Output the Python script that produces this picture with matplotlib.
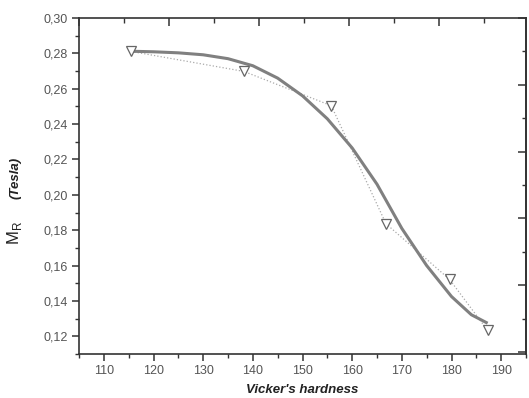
import numpy as np
import matplotlib.pyplot as plt
from matplotlib.ticker import MultipleLocator, FuncFormatter

# measured points (open triangles)
hv = [115.5, 138.2, 155.8, 166.8, 179.6, 187.3]
mr = [0.2811, 0.2698, 0.2504, 0.1837, 0.1522, 0.1233]

# fitted curve
fit_hv = [115.5, 120, 125, 130, 135, 140, 145, 150, 155,
          160, 165, 170, 175, 180, 184, 187]
fit_mr = [0.2812, 0.2809, 0.2803, 0.2792, 0.2770, 0.2730, 0.2660, 0.2560, 0.2430,
          0.2265, 0.2060, 0.1810, 0.1600, 0.1425, 0.1322, 0.1278]

plt.rcParams['font.family'] = ['Liberation Sans', 'DejaVu Sans']

fig = plt.figure(figsize=(5.29, 3.98), dpi=100)
ax = fig.add_axes([79/529, 1-354/398, 447/529, 336/398])

spine_c = '#333333'
label_c = '#555555'

ax.plot(hv, mr, linestyle=':', color='#aaaaaa', lw=0.9, zorder=2)
ax.plot(fit_hv, fit_mr, color='#808080', lw=2.2, zorder=3, solid_joinstyle='round')
ax.plot(hv, mr, linestyle='none', marker='v', ms=7, mfc='white',
        mec='#666666', mew=0.9, zorder=4)

ax.set_xlim(105, 195)
ax.set_ylim(0.11, 0.30)
ax.xaxis.set_minor_locator(MultipleLocator(5))
ax.yaxis.set_major_locator(MultipleLocator(0.02))
ax.yaxis.set_minor_locator(MultipleLocator(0.01))
ax.yaxis.set_major_formatter(FuncFormatter(lambda v, p: ('%.2f' % v).replace('.', ',')))
ax.set_xticks([t for t in range(110, 191, 10)])

for s in ax.spines.values():
    s.set_color(spine_c)
    s.set_linewidth(1.2)
ax.tick_params(which='major', direction='out', length=5, width=1.1, color=spine_c,
               labelsize=9, labelcolor=label_c, pad=3)
ax.tick_params(which='minor', direction='out', length=3, width=1.0, color=spine_c)

# top and right axes with their own tick spacing (as in the original)
top = ax.twiny()
top.set_xlim(0, 447)
top.xaxis.set_major_locator(MultipleLocator(90))
top.xaxis.set_minor_locator(MultipleLocator(45))
top.tick_params(which='major', direction='in', length=6, width=1.1, color=spine_c, labeltop=False)
top.tick_params(which='minor', direction='in', length=3.5, width=1.0, color=spine_c)

right = ax.twinx()
right.set_ylim(-336, 0)
right.yaxis.set_major_locator(MultipleLocator(66.8))
right.yaxis.set_minor_locator(MultipleLocator(33.4))
right.tick_params(which='major', direction='in', length=6, width=1.1, color=spine_c, labelright=False)
right.tick_params(which='minor', direction='in', length=3, width=1.0, color=spine_c)
for a in (top, right):
    for s in a.spines.values():
        s.set_visible(False)
right.spines['right'].set_visible(True)
right.spines['right'].set_color(spine_c)
right.spines['right'].set_linewidth(1.3)

ax.set_xlabel("Vicker's hardness", fontsize=9.5, fontweight='bold', style='italic',
              color='#222222', labelpad=5)

fig.text(15/529, 1-233/398, r'M$_\mathregular{R}$', rotation=90, fontsize=12,
         color='#222222', ha='center', va='center')
fig.text(16/529, 1-178/398, '(Tesla)', rotation=90, fontsize=9.5, fontweight='bold',
         style='italic', color='#222222', ha='center', va='center')

fig.savefig('out.png', dpi=100)
